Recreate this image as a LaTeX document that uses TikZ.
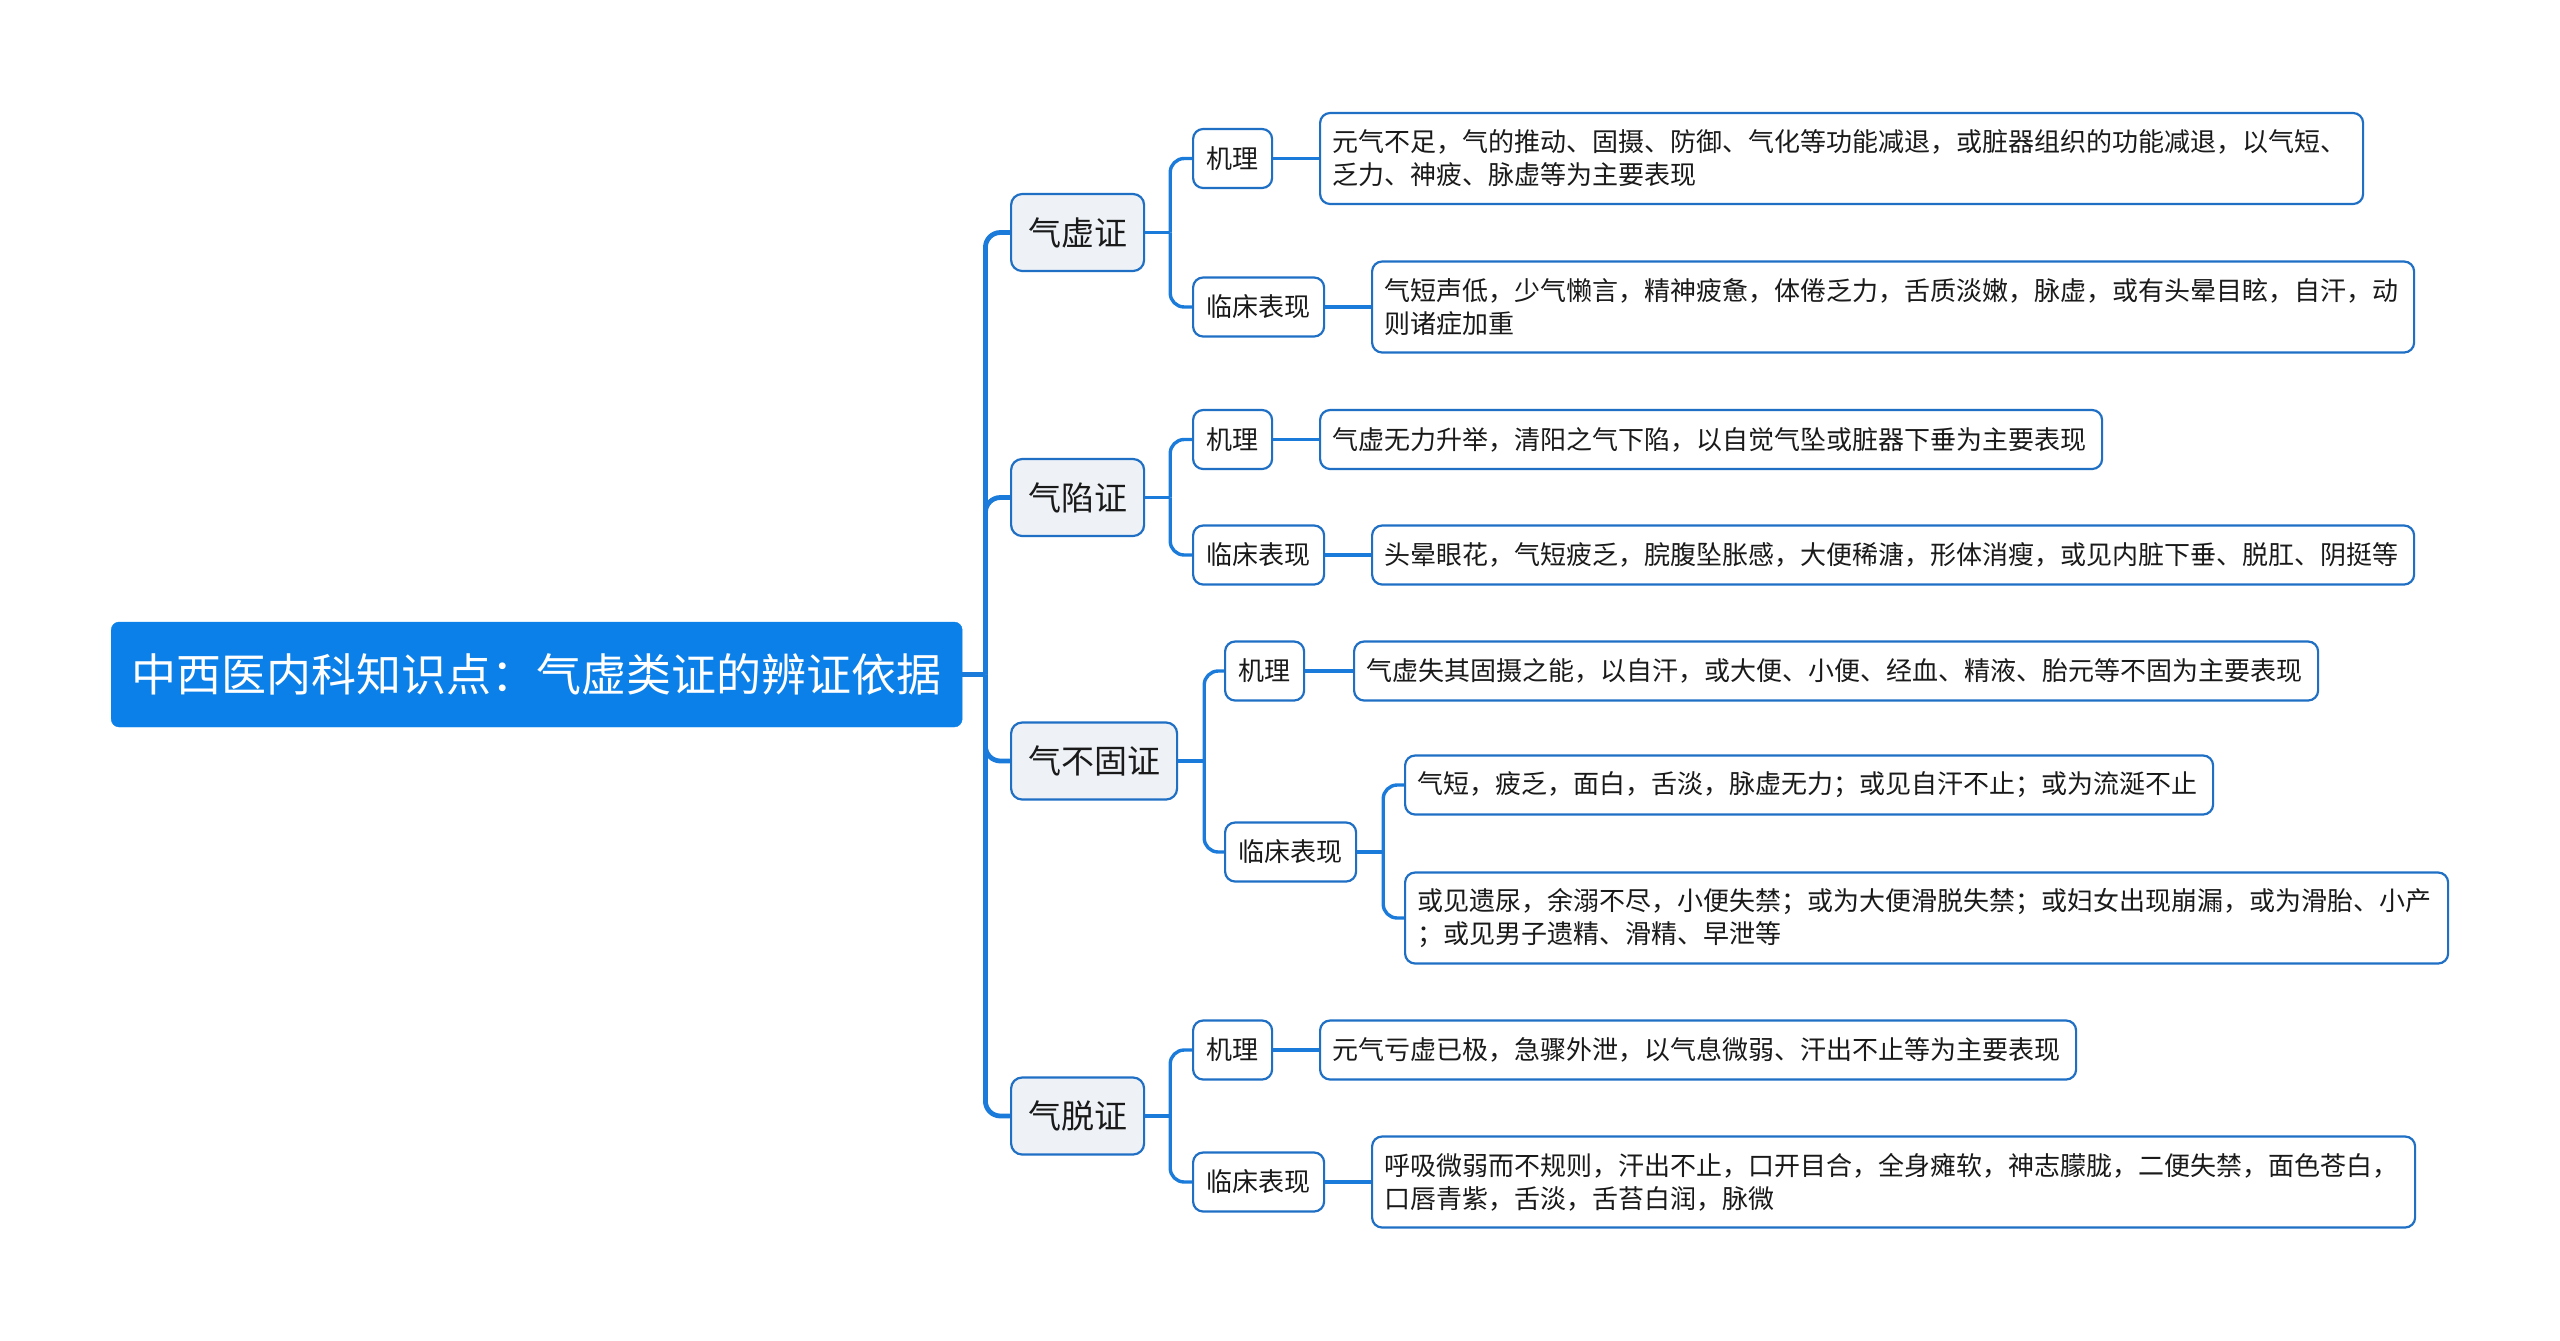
\documentclass[tikz,border=0pt]{standalone}
\usepackage{fontspec}
\setmainfont{Noto Sans CJK SC}
\usetikzlibrary{calc}
\definecolor{lineblue}{HTML}{1B7BDA}
\definecolor{borderblue}{HTML}{1F6FC5}
\definecolor{rootblue}{HTML}{0B80E9}
\definecolor{lvlfill}{HTML}{EEF2F7}
\definecolor{txt}{HTML}{1A1A1A}
\begin{document}
\begin{tikzpicture}[x=1pt,y=-1pt,
 rootnode/.style={fill=rootblue, draw=rootblue, rounded corners=8pt, text=white, font=\fontsize{45}{52}\selectfont, minimum width=851pt, minimum height=105pt, inner sep=0pt, anchor=west},
 topicnode/.style={fill=lvlfill, draw=borderblue, line width=2.2pt, rounded corners=11pt, text=txt, font=\fontsize{33}{40}\selectfont, minimum height=77pt, inner xsep=17pt, inner ysep=0pt, anchor=west},
 subnode/.style={fill=white, draw=borderblue, line width=2.2pt, rounded corners=10pt, text=txt, font=\fontsize{26}{33}\selectfont, minimum height=59pt, inner xsep=13.5pt, inner ysep=0pt, anchor=west},
 leafnode/.style={fill=white, draw=borderblue, line width=2.2pt, rounded corners=10pt, text=txt, font=\fontsize{26}{33}\selectfont, align=left, inner xsep=12pt, inner ysep=0pt, minimum height=59pt, anchor=west},
 spine/.style={draw=lineblue, line width=4.8pt, rounded corners=15pt},
 conn/.style={draw=lineblue, line width=3.4pt, rounded corners=14pt},
]
\fill[white] (0,0) rectangle (2560,1341);
\useasboundingbox (0,0) rectangle (2560,1341);

% root
\node[rootnode] (root) at (111,674.5) {中西医内科知识点：气虚类证的辨证依据};

% level 1
\node[topicnode] (T1) at (1010,232.5) {气虚证};
\node[topicnode] (T2) at (1010,497.5) {气陷证};
\node[topicnode] (T3) at (1010,761) {气不固证};
\node[topicnode] (T4) at (1010,1116) {气脱证};

% level 2
\node[subnode] (S1a) at (1192,158.5) {机理};
\node[subnode] (S1b) at (1192,307) {临床表现};
\node[subnode] (S2a) at (1192,439.5) {机理};
\node[subnode] (S2b) at (1192,555) {临床表现};
\node[subnode] (S3a) at (1224,671) {机理};
\node[subnode] (S3b) at (1224,852) {临床表现};
\node[subnode] (S4a) at (1192,1050) {机理};
\node[subnode] (S4b) at (1192,1182) {临床表现};

% leaves
\node[leafnode, text width=1019pt, minimum height=91pt] (A1) at (1319,158.5) {元气不足，气的推动、固摄、防御、气化等功能减退，或脏器组织的功能减退，以气短、\\乏力、神疲、脉虚等为主要表现};
\node[leafnode, text width=1018pt, minimum height=91pt] (A2) at (1371,307) {气短声低，少气懒言，精神疲惫，体倦乏力，舌质淡嫩，脉虚，或有头晕目眩，自汗，动\\则诸症加重};
\node[leafnode, text width=758pt] (B1) at (1319,439.5) {气虚无力升举，清阳之气下陷，以自觉气坠或脏器下垂为主要表现};
\node[leafnode, text width=1018pt] (B2) at (1371,555) {头晕眼花，气短疲乏，脘腹坠胀感，大便稀溏，形体消瘦，或见内脏下垂、脱肛、阴挺等};
\node[leafnode, text width=940pt] (C1) at (1353,671) {气虚失其固摄之能，以自汗，或大便、小便、经血、精液、胎元等不固为主要表现};
\node[leafnode, text width=784pt] (C2a) at (1404,785) {气短，疲乏，面白，舌淡，脉虚无力；或见自汗不止；或为流涎不止};
\node[leafnode, text width=1019pt, minimum height=91pt] (C2b) at (1404,918) {或见遗尿，余溺不尽，小便失禁；或为大便滑脱失禁；或妇女出现崩漏，或为滑胎、小产\\；或见男子遗精、滑精、早泄等};
\node[leafnode, text width=732pt] (D1) at (1319,1050) {元气亏虚已极，急骤外泄，以气息微弱、汗出不止等为主要表现};
\node[leafnode, text width=1019pt, minimum height=91pt] (D2) at (1371,1182) {呼吸微弱而不规则，汗出不止，口开目合，全身瘫软，神志朦胧，二便失禁，面色苍白，\\口唇青紫，舌淡，舌苔白润，脉微};

% junctions
\coordinate (J0) at ($(root.east)+(23,0)$);
\coordinate (J1) at ($(T1.east)+(25,0)$);
\coordinate (J2) at ($(T2.east)+(25,0)$);
\coordinate (J3) at ($(T3.east)+(26,0)$);
\coordinate (J4) at ($(T4.east)+(25,0)$);
\coordinate (J5) at ($(S3b.east)+(26,0)$);

% root to level 1
\draw[spine] (root.east) -- (J0);
\foreach \t in {T1,T2,T3,T4} { \draw[spine] (J0) |- (\t.west); }
% level 1 to level 2
\draw[conn] (T1.east) -- (J1);
\draw[conn] (J1) |- (S1a.west);
\draw[conn] (J1) |- (S1b.west);
\draw[conn] (T2.east) -- (J2);
\draw[conn] (J2) |- (S2a.west);
\draw[conn] (J2) |- (S2b.west);
\draw[conn] (T3.east) -- (J3);
\draw[conn] (J3) |- (S3a.west);
\draw[conn] (J3) |- (S3b.west);
\draw[conn] (T4.east) -- (J4);
\draw[conn] (J4) |- (S4a.west);
\draw[conn] (J4) |- (S4b.west);
% level 2 to leaves
\draw[conn] (S1a.east) -- (A1.west);
\draw[conn] (S1b.east) -- (A2.west);
\draw[conn] (S2a.east) -- (B1.west);
\draw[conn] (S2b.east) -- (B2.west);
\draw[conn] (S3a.east) -- (C1.west);
\draw[conn] (S3b.east) -- (J5);
\draw[conn] (J5) |- (C2a.west);
\draw[conn] (J5) |- (C2b.west);
\draw[conn] (S4a.east) -- (D1.west);
\draw[conn] (S4b.east) -- (D2.west);
\end{tikzpicture}
\end{document}
